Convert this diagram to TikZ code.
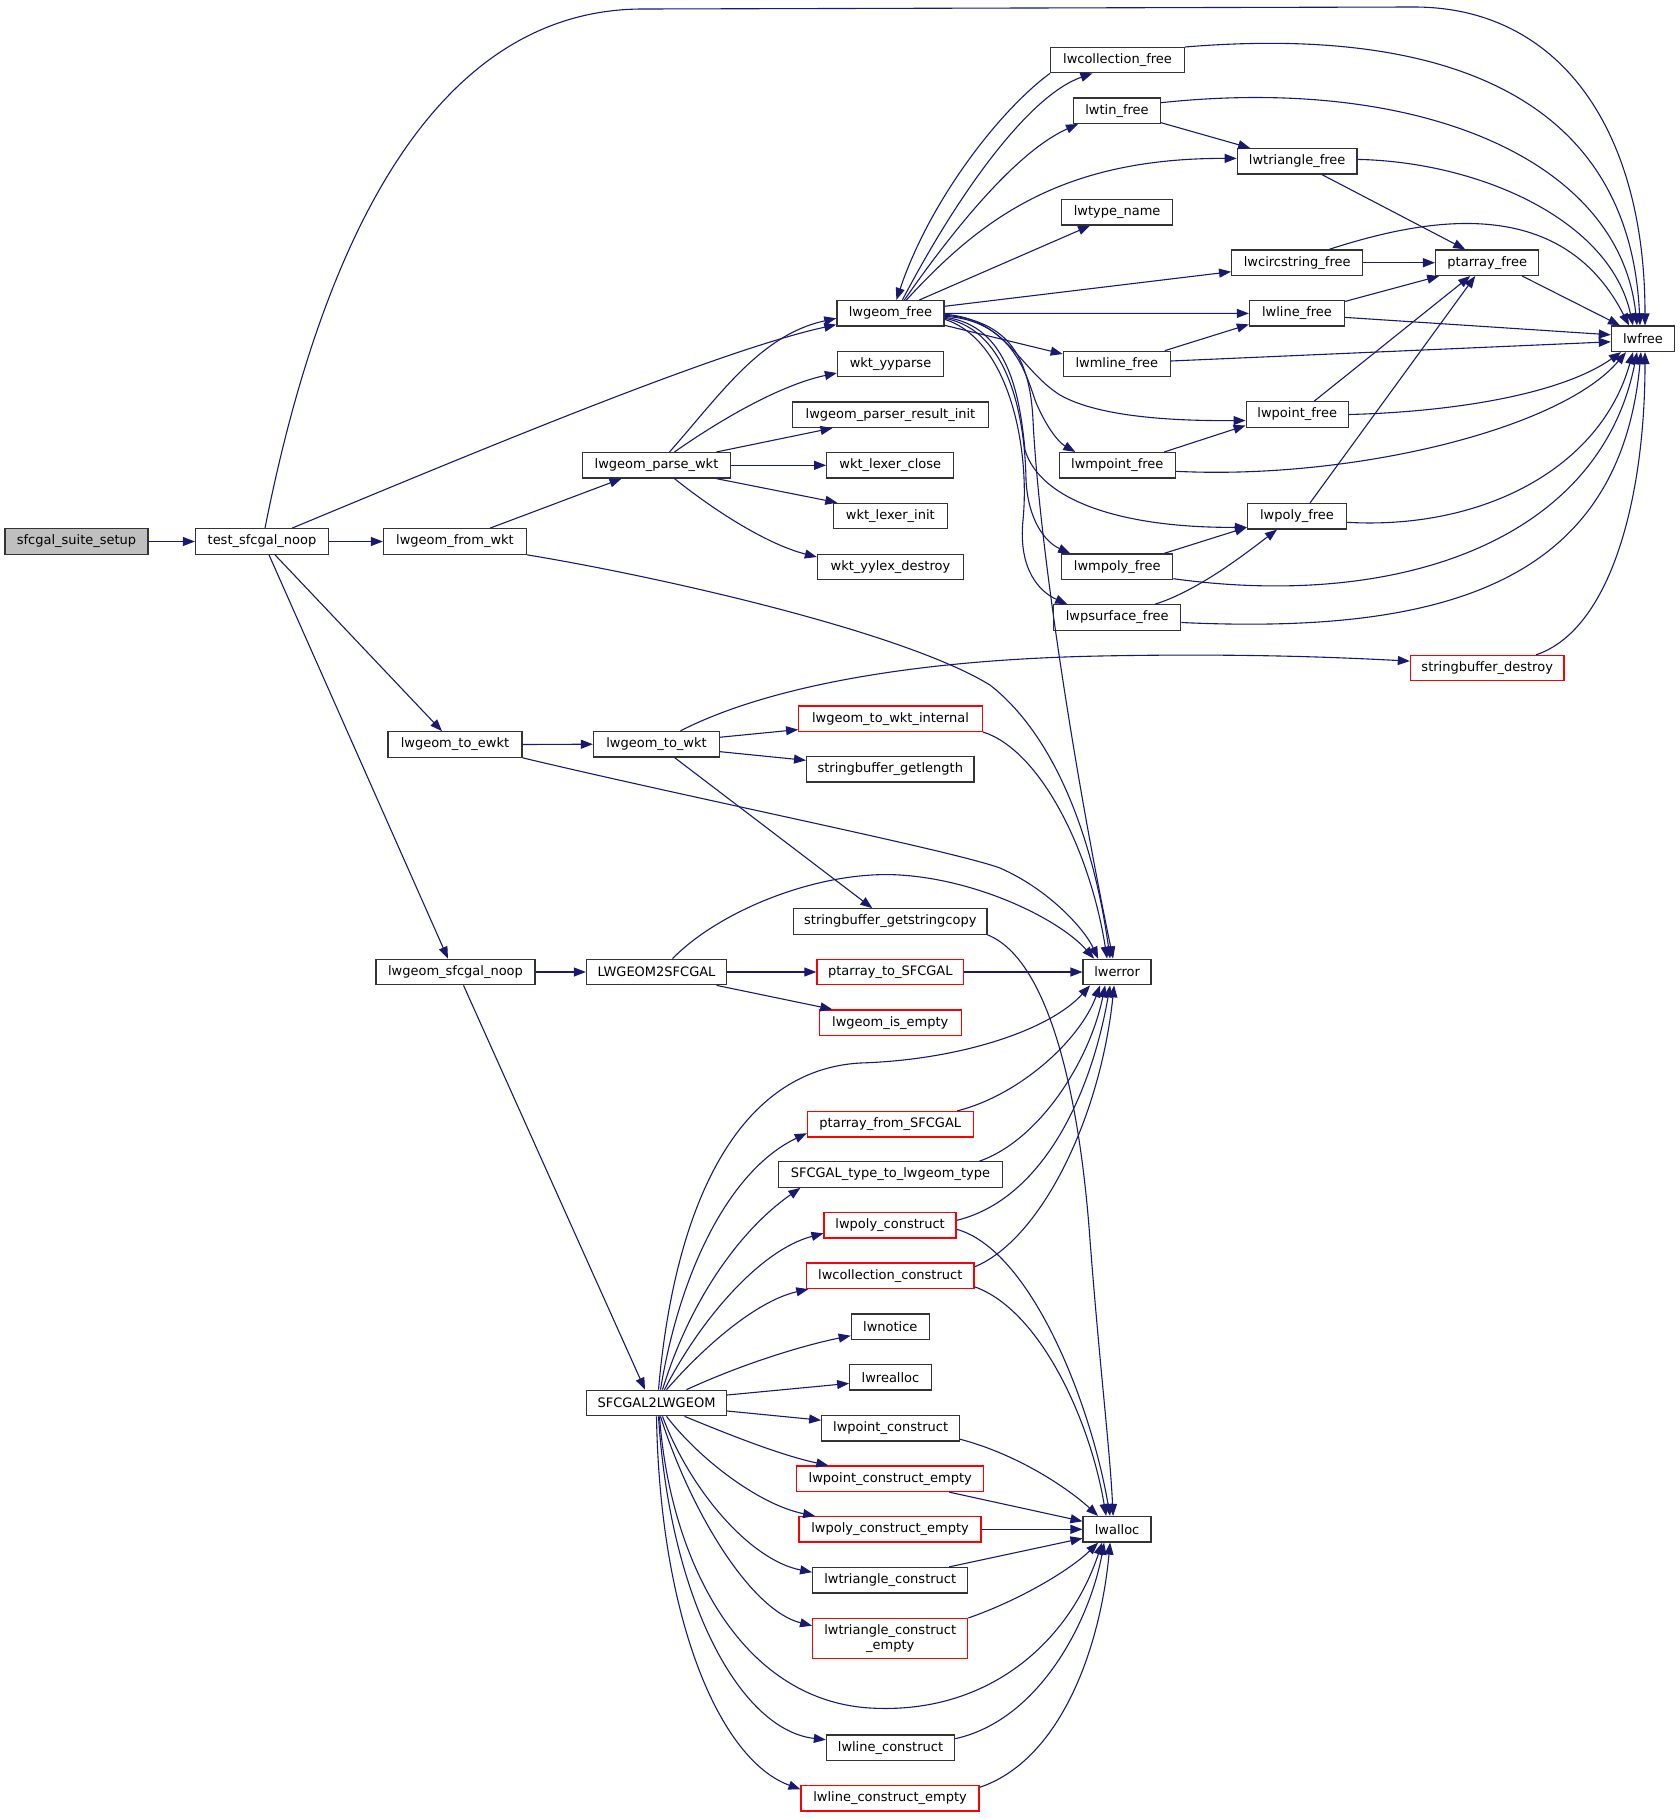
\documentclass[tikz,border=0pt]{standalone}
\usepackage{fontspec}
\setmainfont{DejaVu Sans}
\usetikzlibrary{arrows.meta}
\definecolor{edgeblue}{RGB}{25,25,112}
\definecolor{boxgray}{RGB}{191,191,191}
\definecolor{boxred}{RGB}{255,0,0}
\begin{document}
\begin{tikzpicture}[x=1pt,y=-1pt,
  fn/.style={draw=black!80, fill=white, line width=1.3pt, rectangle, inner sep=0pt, minimum height=25.4pt, font=\fontsize{13}{15}\selectfont, anchor=center},
  fnred/.style={fn, draw=boxred},
  e/.style={draw=edgeblue, line width=1.1pt, -{Triangle[length=12pt,width=9pt]}},
]
\useasboundingbox (0,0) rectangle (1680,1818);

% ---------- nodes ----------
\node[fn, fill=boxgray, minimum width=143pt] (setup) at (76.5,541.5) {sfcgal\_suite\_setup};
\node[fn, minimum width=133pt] (noop) at (262,541.5) {test\_sfcgal\_noop};
\node[fn, minimum width=143pt] (fromwkt) at (455,541.5) {lwgeom\_from\_wkt};
\node[fn, minimum width=134pt] (toewkt) at (455,744.5) {lwgeom\_to\_ewkt};
\node[fn, minimum width=159pt] (sfnoop) at (455.5,972) {lwgeom\_sfcgal\_noop};
\node[fn, minimum width=148.5pt] (parsewkt) at (656.5,465.3) {lwgeom\_parse\_wkt};
\node[fn, minimum width=126pt] (tostr) at (656.5,744.2) {lwgeom\_to\_wkt};
\node[fn, minimum width=140pt] (l2s) at (656.5,972) {LWGEOM2SFCGAL};
\node[fn, minimum width=140pt] (s2l) at (656.5,1403) {SFCGAL2LWGEOM};

\node[fn, minimum width=107pt] (gfree) at (890.4,313.3) {lwgeom\_free};
\node[fn, minimum width=106pt] (yyparse) at (890.5,364) {wkt\_yyparse};
\node[fn, minimum width=195.5pt] (resinit) at (890.5,414.7) {lwgeom\_parser\_result\_init};
\node[fn, minimum width=127pt] (lexclose) at (890.3,465.3) {wkt\_lexer\_close};
\node[fn, minimum width=114pt] (lexinit) at (890.3,516) {wkt\_lexer\_init};
\node[fn, minimum width=146pt] (yylex) at (890.5,567) {wkt\_yylex\_destroy};
\node[fnred, minimum width=183.5pt] (towktint) at (890.5,718.6) {lwgeom\_to\_wkt\_internal};
\node[fn, minimum width=167.3pt] (getlen) at (890.3,769.3) {stringbuffer\_getlength};
\node[fn, minimum width=193.3pt] (getcopy) at (890.3,921.5) {stringbuffer\_getstringcopy};
\node[fnred, minimum width=146.7pt] (patosf) at (890.3,972) {ptarray\_to\_SFCGAL};
\node[fnred, minimum width=142pt] (isempty) at (890.3,1022.7) {lwgeom\_is\_empty};
\node[fnred, minimum width=165.7pt] (pafromsf) at (890.3,1124.2) {ptarray\_from\_SFCGAL};
\node[fn, minimum width=224pt] (sftype) at (890.4,1174.5) {SFCGAL\_type\_to\_lwgeom\_type};
\node[fnred, minimum width=132pt] (polycons) at (890.1,1225.3) {lwpoly\_construct};
\node[fnred, minimum width=167.3pt] (collcons) at (890.3,1275.8) {lwcollection\_construct};
\node[fn, minimum width=78pt] (notice) at (890.3,1326.7) {lwnotice};
\node[fn, minimum width=81.5pt] (realloc) at (890.5,1377.4) {lwrealloc};
\node[fn, minimum width=137.6pt] (ptcons) at (890.6,1428.2) {lwpoint\_construct};
\node[fnred, minimum width=187pt] (ptconse) at (890.3,1478.8) {lwpoint\_construct\_empty};
\node[fnred, minimum width=182pt] (polyconse) at (890.1,1529.3) {lwpoly\_construct\_empty};
\node[fn, minimum width=155pt] (tricons) at (890.2,1580.2) {lwtriangle\_construct};
\node[fnred, minimum width=155pt, minimum height=40.2pt, align=center] (triconse) at (890.2,1638.7) {lwtriangle\_construct\\\_empty};
\node[fn, minimum width=128pt] (linecons) at (890.5,1747.7) {lwline\_construct};
\node[fnred, minimum width=178pt] (lineconse) at (890.1,1798.3) {lwline\_construct\_empty};

\node[fn, minimum width=68pt] (lwerror) at (1117.1,972) {lwerror};
\node[fn, minimum width=68pt] (lwalloc) at (1117.1,1529.3) {lwalloc};
\node[fn, minimum width=133.7pt] (collfree) at (1117.5,60) {lwcollection\_free};
\node[fn, minimum width=86.7pt] (tinfree) at (1117,110.7) {lwtin\_free};
\node[fn, minimum width=110.8pt] (typename) at (1117.1,212.3) {lwtype\_name};
\node[fn, minimum width=107pt] (mlinefree) at (1116.8,364) {lwmline\_free};
\node[fn, minimum width=116pt] (mpointfree) at (1117.3,465.3) {lwmpoint\_free};
\node[fn, minimum width=111pt] (mpolyfree) at (1117.2,566.7) {lwmpoly\_free};
\node[fn, minimum width=127pt] (psurffree) at (1117.2,617.5) {lwpsurface\_free};

\node[fn, minimum width=119.8pt] (trifree) at (1297.2,161.4) {lwtriangle\_free};
\node[fn, minimum width=131pt] (circfree) at (1297.2,262.7) {lwcircstring\_free};
\node[fn, minimum width=95pt] (linefree) at (1297,313.4) {lwline\_free};
\node[fn, minimum width=102pt] (pointfree) at (1297.2,414.5) {lwpoint\_free};
\node[fn, minimum width=98.8pt] (polyfree) at (1297,516.3) {lwpoly\_free};
\node[fn, minimum width=103.2pt] (pafree) at (1487.2,262.7) {ptarray\_free};
\node[fnred, minimum width=153.5pt] (sbdestroy) at (1487.2,668.1) {stringbuffer\_destroy};
\node[fn, minimum width=63.2pt] (lwfree) at (1643,338.8) {lwfree};

% ---------- edges ----------
\draw[e] (setup.east) -- (noop.west);
\draw[e] ([xshift=3pt]noop.north) .. controls (320,250) and (430,9) .. (643,9) -- (1414,7) .. controls (1560,7) and (1645,130) .. ([xshift=2pt]lwfree.north);
\draw[e] ([xshift=30pt]noop.north) .. controls (480,450) and (720,350) .. ([yshift=2pt]gfree.south west);
\draw[e] (noop.east) -- (fromwkt.west);
\draw[e] ([xshift=13pt]noop.south) -- ([xshift=-13pt]toewkt.north);
\draw[e] ([xshift=7pt]noop.south) -- ([xshift=-7.5pt]sfnoop.north);
\draw[e] ([xshift=35pt]fromwkt.north) -- ([xshift=-35pt]parsewkt.south);
\draw[e] (fromwkt.south east) .. controls (650,575) and (900,630) .. (990,685) .. controls (1060,740) and (1095,850) .. ([xshift=-7pt]lwerror.north);

\draw[e] ([xshift=13pt]parsewkt.north) .. controls (720,395) and (760,335) .. ([yshift=-5pt]gfree.west);
\draw[e] ([xshift=18pt]parsewkt.north) .. controls (720,420) and (780,385) .. ([yshift=-9pt]yyparse.west);
\draw[e] ([xshift=60pt]parsewkt.north) -- ([xshift=-58pt]resinit.south);
\draw[e] (parsewkt.east) -- (lexclose.west);
\draw[e] ([xshift=60pt]parsewkt.south) -- ([xshift=-53pt]lexinit.north);
\draw[e] ([xshift=18pt]parsewkt.south) .. controls (720,515) and (770,545) .. ([yshift=10pt]yylex.west);

\draw[e] ([xshift=12pt]gfree.north) .. controls (960,190) and (1030,95) .. ([xshift=-25pt]collfree.south);
\draw[e] (collfree.south west) .. controls (1000,110) and (930,200) .. ([xshift=6pt]gfree.north);
\draw[e] ([xshift=14pt]gfree.north) .. controls (960,220) and (1020,150) .. ([xshift=-39pt]tinfree.south);
\draw[e] ([xshift=16pt]gfree.north) .. controls (980,220) and (1060,158) .. ([yshift=3pt]trifree.west);
\draw[e] ([xshift=29pt]gfree.north) -- ([xshift=-27pt]typename.south);
\draw[e] ([yshift=7pt]gfree.east) -- ([yshift=-9pt]circfree.west);
\draw[e] (gfree.east) -- (linefree.west);
\draw[e] ([yshift=-12pt]gfree.east) -- ([yshift=10pt]mlinefree.west);
\draw[e] ([yshift=-1pt]gfree.east) .. controls (1005,318) and (1020,370) .. (1060,395) .. controls (1100,418) and (1180,421) .. ([yshift=-6pt]pointfree.west);
\draw[e] ([yshift=-3pt]gfree.east) .. controls (1010,320) and (1025,370) .. (1035,400) .. controls (1045,425) and (1058,442) .. ([xshift=-42pt]mpointfree.north);
\draw[e] ([yshift=-4pt]gfree.east) .. controls (1010,325) and (1020,400) .. (1025,450) .. controls (1040,500) and (1120,528) .. ([yshift=-11pt]polyfree.west);
\draw[e] ([yshift=-5pt]gfree.east) .. controls (1010,330) and (1025,420) .. (1026,480) .. controls (1028,520) and (1045,542) .. ([xshift=-47pt]mpolyfree.north);
\draw[e] ([yshift=-6pt]gfree.east) .. controls (1010,340) and (1030,450) .. (1023,520) .. controls (1018,570) and (1040,592) .. ([xshift=-50pt]psurffree.north);
\draw[e] ([yshift=-2pt]gfree.east) .. controls (1010,320) and (1030,360) .. (1033,420) .. controls (1040,560) and (1080,800) .. ([xshift=-4pt]lwerror.north);

\draw[e] ([yshift=-12pt]tinfree.east) -- ([xshift=-47pt]trifree.north);
\draw[e] ([yshift=8pt]tinfree.east) .. controls (1420,75) and (1620,160) .. ([xshift=-6pt]lwfree.north);
\draw[e] ([yshift=13pt]collfree.east) .. controls (1450,25) and (1630,100) .. ([xshift=-3pt]lwfree.north);
\draw[e] ([xshift=25pt]trifree.south) -- ([xshift=-22pt]pafree.north);
\draw[e] ([yshift=2pt]trifree.east) .. controls (1480,162) and (1610,220) .. ([xshift=-10pt]lwfree.north);
\draw[e] (circfree.east) -- (pafree.west);
\draw[e] ([xshift=32pt]circfree.north) .. controls (1420,220) and (1560,190) .. ([xshift=-14pt]lwfree.north);
\draw[e] ([xshift=35pt]pafree.south) -- ([xshift=-23pt]lwfree.north);
\draw[e] ([yshift=12pt]linefree.east) -- ([xshift=-48pt]pafree.south);
\draw[e] ([yshift=-4pt]linefree.east) -- ([yshift=4pt]lwfree.west);
\draw[e] ([xshift=48pt]mlinefree.north) -- ([yshift=-11pt]linefree.west);
\draw[e] ([yshift=3pt]mlinefree.east) -- ([yshift=-3pt]lwfree.west);
\draw[e] ([xshift=17pt]pointfree.north) -- ([xshift=-17pt]pafree.south);
\draw[e] (pointfree.east) .. controls (1450,412) and (1560,395) .. ([xshift=-22pt]lwfree.south);
\draw[e] ([xshift=47pt]mpointfree.north) -- ([yshift=-11pt]pointfree.west);
\draw[e] ([yshift=-6pt]mpointfree.east) .. controls (1350,480) and (1560,430) .. ([xshift=-17pt]lwfree.south);
\draw[e] ([xshift=13pt]polyfree.north) -- ([xshift=-12pt]pafree.south);
\draw[e] ([yshift=-6pt]polyfree.east) .. controls (1480,530) and (1600,470) .. ([xshift=-10pt]lwfree.south);
\draw[e] ([xshift=47pt]mpolyfree.north) -- ([yshift=-11pt]polyfree.west);
\draw[e] ([yshift=-12pt]mpolyfree.east) .. controls (1400,610) and (1600,540) .. ([xshift=-6pt]lwfree.south);
\draw[e] ([xshift=38pt]psurffree.north) .. controls (1200,590) and (1250,550) .. ([xshift=-20pt]polyfree.south);
\draw[e] ([yshift=-5pt]psurffree.east) .. controls (1450,635) and (1620,580) .. ([xshift=-2pt]lwfree.south);
\draw[e] ([xshift=49pt]sbdestroy.north) .. controls (1610,630) and (1645,500) .. ([xshift=2pt]lwfree.south);

\draw[e] (toewkt.east) -- (tostr.west);
\draw[e] (toewkt.south east) .. controls (700,800) and (950,850) .. (1000,868) .. controls (1050,890) and (1085,930) .. ([xshift=-19pt]lwerror.north);
\draw[e] ([xshift=24pt]tostr.north) .. controls (760,690) and (900,660) .. (1100,656) .. controls (1250,653) and (1350,658) .. ([yshift=7pt]sbdestroy.west);
\draw[e] ([yshift=7pt]tostr.east) -- ([yshift=-11pt]towktint.west);
\draw[e] ([yshift=-7.5pt]tostr.east) -- ([yshift=9pt]getlen.west);
\draw[e] ([xshift=18pt]tostr.south) -- ([xshift=-18pt]getcopy.north);
\draw[e] (towktint.south east) .. controls (1040,750) and (1090,850) .. ([xshift=-10pt]lwerror.north);
\draw[e] (getcopy.south east) .. controls (1050,960) and (1080,1100) .. (1090,1240) .. controls (1100,1370) and (1110,1450) .. ([xshift=-4pt]lwalloc.north);

\draw[e] (sfnoop.east) -- (l2s.west);
\draw[e] ([xshift=8pt]sfnoop.south) -- ([xshift=-11.5pt]s2l.north);
\draw[e] ([xshift=16pt]l2s.north) .. controls (720,910) and (820,870) .. (900,875) .. controls (980,880) and (1060,920) .. ([xshift=-23pt]lwerror.north);
\draw[e] (l2s.east) -- (patosf.west);
\draw[e] ([xshift=60pt]l2s.south) -- ([xshift=-58pt]isempty.north);
\draw[e] (patosf.east) -- (lwerror.west);

\draw[e] ([xshift=2pt]s2l.north) .. controls (675,1200) and (740,1070) .. (860,1063) .. controls (960,1060) and (1050,1030) .. ([xshift=-27pt]lwerror.south);
\draw[e] ([xshift=4pt]s2l.north) .. controls (680,1270) and (730,1170) .. ([yshift=-9pt]pafromsf.west);
\draw[e] ([xshift=6pt]s2l.north) .. controls (690,1300) and (740,1230) .. ([xshift=-90pt]sftype.south);
\draw[e] ([xshift=8pt]s2l.north) .. controls (700,1320) and (760,1250) .. ([yshift=-8pt]polycons.west);
\draw[e] ([xshift=10pt]s2l.north) .. controls (710,1340) and (760,1300) .. ([xshift=-82pt]collcons.south);
\draw[e] ([xshift=30pt]s2l.north) .. controls (740,1365) and (800,1346) .. ([yshift=-9pt]notice.west);
\draw[e] ([yshift=8pt]s2l.east) -- ([yshift=-6pt]realloc.west);
\draw[e] ([yshift=-8pt]s2l.east) -- ([yshift=8pt]ptcons.west);
\draw[e] ([xshift=28pt]s2l.south) .. controls (730,1435) and (780,1455) .. ([xshift=-62pt]ptconse.north);
\draw[e] ([xshift=10pt]s2l.south) .. controls (700,1460) and (760,1505) .. ([xshift=-75pt]polyconse.north);
\draw[e] ([xshift=6pt]s2l.south) .. controls (690,1490) and (750,1560) .. ([yshift=8pt]tricons.west);
\draw[e] ([xshift=4pt]s2l.south) .. controls (690,1510) and (750,1610) .. ([yshift=13pt]triconse.west);
\draw[e] ([xshift=3pt]s2l.south) .. controls (670,1560) and (740,1700) .. (870,1708) .. controls (990,1715) and (1070,1640) .. ([xshift=-15pt]lwalloc.south);
\draw[e] ([xshift=2pt]s2l.south) .. controls (670,1600) and (740,1730) .. ([yshift=8pt]linecons.west);
\draw[e] (s2l.south) .. controls (660,1620) and (720,1760) .. ([yshift=9pt]lineconse.west);

\draw[e] ([xshift=67pt]pafromsf.north) .. controls (1020,1095) and (1080,1040) .. ([xshift=-17pt]lwerror.south);
\draw[e] ([xshift=89pt]sftype.north) .. controls (1040,1140) and (1090,1060) .. ([xshift=-12pt]lwerror.south);
\draw[e] ([yshift=5pt]polycons.east) .. controls (1040,1200) and (1090,1100) .. ([xshift=-7pt]lwerror.south);
\draw[e] ([yshift=-4pt]polycons.east) .. controls (1030,1250) and (1090,1400) .. ([xshift=-7pt]lwalloc.north);
\draw[e] ([yshift=9pt]collcons.east) .. controls (1040,1240) and (1100,1120) .. ([xshift=-3pt]lwerror.south);
\draw[e] ([yshift=-11pt]collcons.east) .. controls (1040,1310) and (1090,1420) .. ([xshift=-11pt]lwalloc.north);
\draw[e] ([yshift=-11pt]ptcons.east) .. controls (1020,1455) and (1070,1490) .. ([xshift=-19pt]lwalloc.north);
\draw[e] ([xshift=59pt]ptconse.south) -- ([yshift=8pt]lwalloc.west);
\draw[e] (polyconse.east) -- (lwalloc.west);
\draw[e] ([xshift=59pt]tricons.north) -- ([yshift=-9pt]lwalloc.west);
\draw[e] (triconse.north east) .. controls (1020,1600) and (1070,1570) .. ([xshift=-19pt]lwalloc.south);
\draw[e] ([yshift=9pt]linecons.east) .. controls (1040,1720) and (1090,1620) .. ([xshift=-13pt]lwalloc.south);
\draw[e] ([yshift=11pt]lineconse.east) .. controls (1060,1760) and (1100,1650) .. ([xshift=-7pt]lwalloc.south);
\end{tikzpicture}
\end{document}
